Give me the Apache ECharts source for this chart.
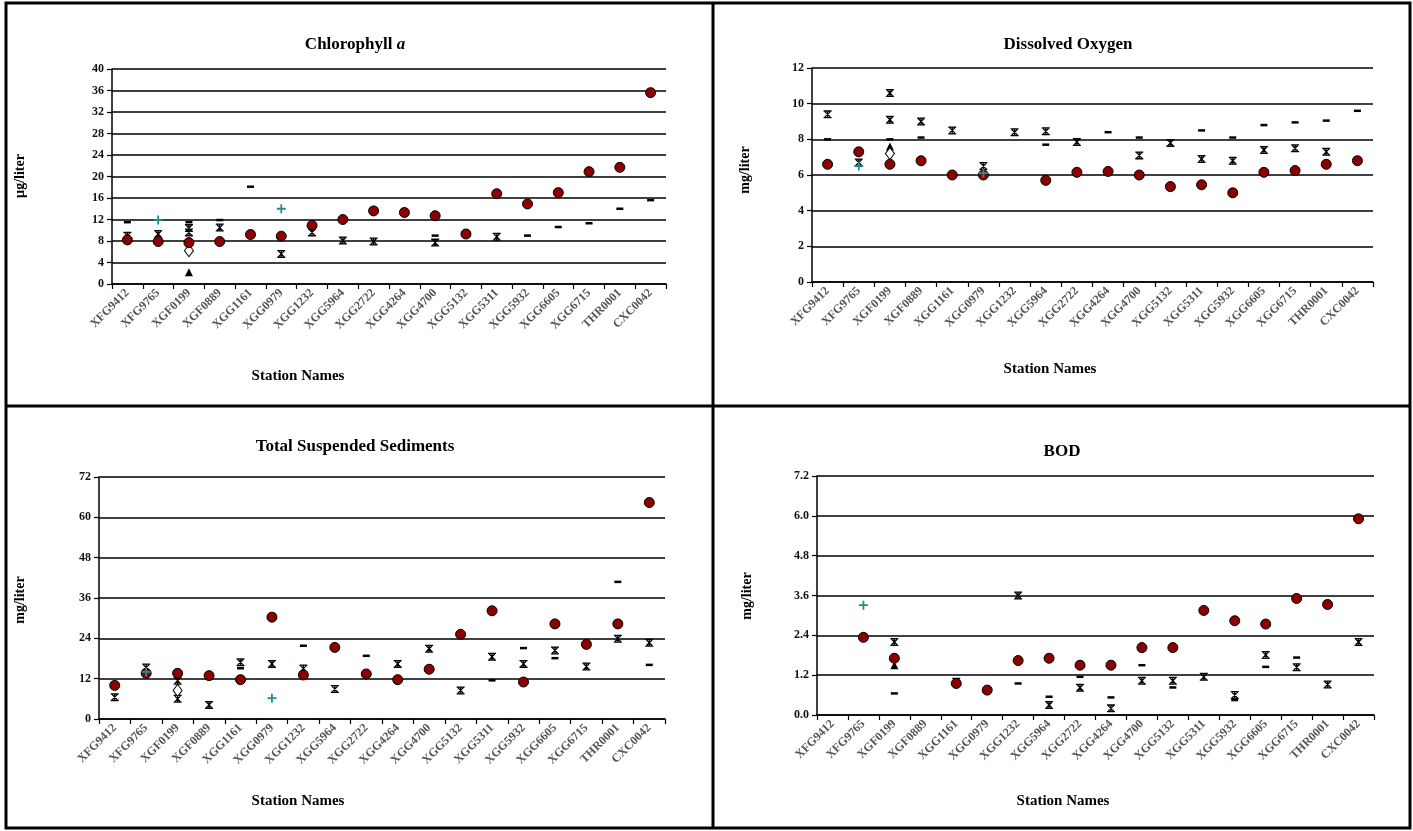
<!DOCTYPE html>
<html>
<head>
<meta charset="utf-8">
<script src="https://cdn.jsdelivr.net/npm/echarts@6/dist/echarts.min.js"></script>
<style>html,body{margin:0;padding:0;background:#fff;}#c{width:1413px;height:831px;}</style>
</head>
<body>
<div id="c"></div>
<script>
const stations = ['XFG9412','XFG9765','XGF0199','XGF0889','XGG1161','XGG0979','XGG1232','XGG5964','XGG2722','XGG4264','XGG4700','XGG5132','XGG5311','XGG5932','XGG6605','XGG6715','THR0001','CXC0042'];
const _ = null;

// Chlorophyll a (µg/liter)
const chlCircle = [8.2, 7.9, 7.7, 7.9, 9.2, 8.9, 10.9, 12.0, 13.6, 13.3, 12.7, 9.3, 16.8, 14.9, 17.0, 20.9, 21.7, 35.6];
const chlDash   = [11.5, _, 11.5, 11.9, 18.1, _, _, _, _, _, 9.0, _, _, 9.0, 10.6, 11.3, 14.0, 15.6];
const chlStar   = [9.0, 9.3, 10.4, 10.5, _, 5.6, 9.6, 8.1, 7.9, _, 7.7, _, 8.8, _, _, _, _, _];
const chlStar2  = [_, _, 9.6, _, _, _, _, _, _, _, _, _, _, _, _, _, _, _];
const chlPlus   = [_, 11.9, _, _, _, 14.0, _, _, _, _, _, _, _, _, _, _, _, _];
const chlTri    = [_, _, 2.2, _, _, _, _, _, _, _, _, _, _, _, _, _, _, _];
const chlDiam   = [_, _, 6.2, _, _, _, _, _, _, _, _, _, _, _, _, _, _, _];
const chlTicks  = {min: 0, max: 40, interval: 4};

// Dissolved Oxygen (mg/liter)
const doCircle = [6.6, 7.3, 6.6, 6.8, 6.0, 6.0, _, 5.7, 6.15, 6.2, 6.0, 5.35, 5.45, 5.0, 6.15, 6.25, 6.6, 6.8];
const doDash   = [8.0, _, 8.0, 8.1, _, _, _, 7.7, _, 8.4, 8.1, _, 8.5, 8.1, 8.8, 8.95, 9.05, 9.6];
const doStar   = [9.4, 6.7, 9.1, 9.0, 8.5, 6.5, 8.4, 8.45, 7.85, _, 7.1, 7.8, 6.9, 6.8, 7.4, 7.5, 7.3, _];
const doStar2  = [_, _, 10.6, _, _, _, _, _, _, _, _, _, _, _, _, _, _, _];
const doPlus   = [_, 6.5, _, _, _, 6.1, _, _, _, _, _, _, _, _, _, _, _, _];
const doTri    = [_, _, 7.6, _, _, _, _, _, _, _, _, _, _, _, _, _, _, _];
const doDiam   = [_, _, 7.2, _, _, _, _, _, _, _, _, _, _, _, _, _, _, _];
const doTicks  = {min: 0, max: 12, interval: 2};

// Total Suspended Sediments (mg/liter)
const tssCircle = [10.0, 13.6, 13.6, 12.9, 11.7, 30.3, 13.1, 21.3, 13.4, 11.7, 14.8, 25.2, 32.2, 11.0, 28.3, 22.2, 28.3, 64.4];
const tssDash   = [_, _, _, 12.0, 15.1, _, 21.8, _, 18.8, _, _, _, 11.5, 21.1, 18.1, _, 40.8, 16.1];
const tssStar   = [6.5, 15.3, 11.4, 4.2, 16.9, 16.4, 15.0, 8.9, _, 16.4, 20.9, 8.5, 18.5, 16.4, 20.4, 15.6, 23.9, 22.7];
const tssStar2  = [_, _, 6.0, _, _, _, _, _, _, _, _, _, _, _, _, _, _, _];
const tssPlus   = [_, 14.0, _, _, _, 6.2, _, _, _, _, _, _, _, _, _, _, _, _];
const tssTri    = [_, _, _, _, _, _, _, _, _, _, _, _, _, _, _, _, _, _];
const tssDiam   = [_, _, 8.5, _, _, _, _, _, _, _, _, _, _, _, _, _, _, _];
const tssTicks  = {min: 0, max: 72, interval: 12};

// BOD (mg/liter)
const bodCircle = [_, 2.34, 1.71, _, 0.95, 0.75, 1.64, 1.71, 1.5, 1.5, 2.03, 2.03, 3.15, 2.84, 2.74, 3.51, 3.33, 5.91];
const bodDash   = [_, _, 0.65, _, _, _, 0.95, 0.55, 1.15, 0.53, 1.5, 0.83, _, 0.45, 1.45, 1.73, _, _];
const bodStar   = [_, _, 2.2, _, 1.0, _, 3.6, 0.3, 0.82, 0.2, 1.03, 1.03, 1.15, 0.6, 1.81, 1.44, 0.92, 2.2];
const bodStar2  = [_, _, _, _, _, _, _, _, _, _, _, _, _, _, _, _, _, _];
const bodPlus   = [_, 3.31, _, _, _, _, _, _, _, _, _, _, _, _, _, _, _, _];
const bodTri    = [_, _, 1.5, _, _, _, _, _, _, _, _, _, _, _, _, _, _, _];
const bodDiam   = [_, _, _, _, _, _, _, _, _, _, _, _, _, _, _, _, _, _];
const bodTicks  = {min: 0, max: 7.2, interval: 1.2};

const SERIF = '"Liberation Serif", "DejaVu Serif", serif';
const STAR = 'path://M0,0h10v1.6h-10z M0,8.4h10v1.6h-10z M4.2,0h1.6v10h-1.6z M1,2.1L2.1,1L9,7.9L7.9,9z M7.9,1L9,2.1L2.1,9L1,7.9z';
const PLUS = 'path://M4,0h2v10h-2z M0,4h10v2h-10z';

const panels = [
  {grid:{left:112, right:747, top:69, bottom:547}, ticks:chlTicks, dec:0,
   d:[chlCircle, chlDash, chlStar, chlStar2, chlPlus, chlTri, chlDiam]},
  {grid:{left:812, right:40, top:68, bottom:549}, ticks:doTicks, dec:0,
   d:[doCircle, doDash, doStar, doStar2, doPlus, doTri, doDiam]},
  {grid:{left:99, right:748, top:477, bottom:112}, ticks:tssTicks, dec:0,
   d:[tssCircle, tssDash, tssStar, tssStar2, tssPlus, tssTri, tssDiam]},
  {grid:{left:817, right:39, top:476, bottom:116}, ticks:bodTicks, dec:1,
   d:[bodCircle, bodDash, bodStar, bodStar2, bodPlus, bodTri, bodDiam]}
];

const grid = [], xAxis = [], yAxis = [], series = [];
panels.forEach((p, k) => {
  grid.push(p.grid);
  xAxis.push({
    type:'category', gridIndex:k, data:stations, boundaryGap:true,
    axisLine:{lineStyle:{color:'#000', width:1.5}},
    axisTick:{show:true, length:5, lineStyle:{color:'#000', width:1.2}},
    axisLabel:{interval:0, rotate:45, fontFamily:SERIF, fontSize:12, fontWeight:'bold', color:'#555', margin:7},
    splitLine:{show:false}
  });
  yAxis.push({
    type:'value', gridIndex:k, min:p.ticks.min, max:p.ticks.max, interval:p.ticks.interval,
    axisLine:{show:true, lineStyle:{color:'#000', width:1.5}},
    axisTick:{show:true, length:5, lineStyle:{color:'#000', width:1.2}},
    axisLabel:{fontFamily:SERIF, fontSize:12, fontWeight:'bold', color:'#111', margin:8,
      formatter: v => Number(v).toFixed(p.dec)},
    splitLine:{show:true, lineStyle:{color:'#000', width:1.5}}
  });
  const base = {type:'scatter', xAxisIndex:k, yAxisIndex:k};
  series.push(Object.assign({}, base, {data:p.d[1], symbol:'rect', symbolSize:[7,2.5], itemStyle:{color:'#000', opacity:1}, z:3}));
  series.push(Object.assign({}, base, {data:p.d[2], symbol:STAR, symbolSize:[8,8], itemStyle:{color:'#000', opacity:1}, z:3}));
  series.push(Object.assign({}, base, {data:p.d[3], symbol:STAR, symbolSize:[8,8], itemStyle:{color:'#000', opacity:1}, z:3}));
  series.push(Object.assign({}, base, {data:p.d[5], symbol:'triangle', symbolSize:[8,8], itemStyle:{color:'#000', opacity:1}, z:3}));
  series.push(Object.assign({}, base, {data:p.d[6], symbol:'diamond', symbolSize:[9,12], itemStyle:{color:'#fff', borderColor:'#000', borderWidth:1, opacity:1}, z:3}));
  series.push(Object.assign({}, base, {data:p.d[0], symbol:'circle', symbolSize:10, itemStyle:{color:'#8b0000', borderColor:'#000', borderWidth:1, opacity:1}, z:4}));
  series.push(Object.assign({}, base, {data:p.d[4], symbol:PLUS, symbolSize:[9,9], itemStyle:{color:'#1f8f8f', opacity:1}, z:5}));
});

function txt(x, y, s, size, rot, rich) {
  const o = {type:'text', x:x, y:y, style:{text:s, fontFamily:SERIF, fontSize:size, fontWeight:'bold', fill:'#000', textAlign:'center', textVerticalAlign:'middle'}, z:10};
  if (rich) o.style.rich = rich;
  if (rot) o.rotation = rot;
  return o;
}

const graphic = [
  {type:'rect', shape:{x:6, y:3, width:1404, height:825}, style:{fill:'none', stroke:'#000', lineWidth:3}, z:9},
  {type:'line', shape:{x1:6, y1:406, x2:1410, y2:406}, style:{stroke:'#000', lineWidth:3}, z:9},
  {type:'line', shape:{x1:713, y1:3, x2:713, y2:828}, style:{stroke:'#000', lineWidth:3}, z:9},
  txt(355, 45, 'Chlorophyll {i|a}', 17, 0, {i:{fontStyle:'italic', fontWeight:'bold', fontFamily:SERIF, fontSize:17}}),
  txt(1068, 45, 'Dissolved Oxygen', 17, 0),
  txt(355, 447, 'Total Suspended Sediments', 17, 0),
  txt(1062, 452, 'BOD', 17, 0),
  txt(298, 376, 'Station Names', 15, 0),
  txt(1050, 369, 'Station Names', 15, 0),
  txt(298, 801, 'Station Names', 15, 0),
  txt(1063, 801, 'Station Names', 15, 0),
  txt(20, 176, 'µg/liter', 14, Math.PI/2),
  txt(745, 170, 'mg/liter', 14, Math.PI/2),
  txt(20, 600, 'mg/liter', 14, Math.PI/2),
  txt(747, 596, 'mg/liter', 14, Math.PI/2)
];

const chart = echarts.init(document.getElementById('c'), null, {renderer:'canvas'});
chart.setOption({backgroundColor:'#fff', animation:false, grid, xAxis, yAxis, series, graphic});
</script>
</body>
</html>
